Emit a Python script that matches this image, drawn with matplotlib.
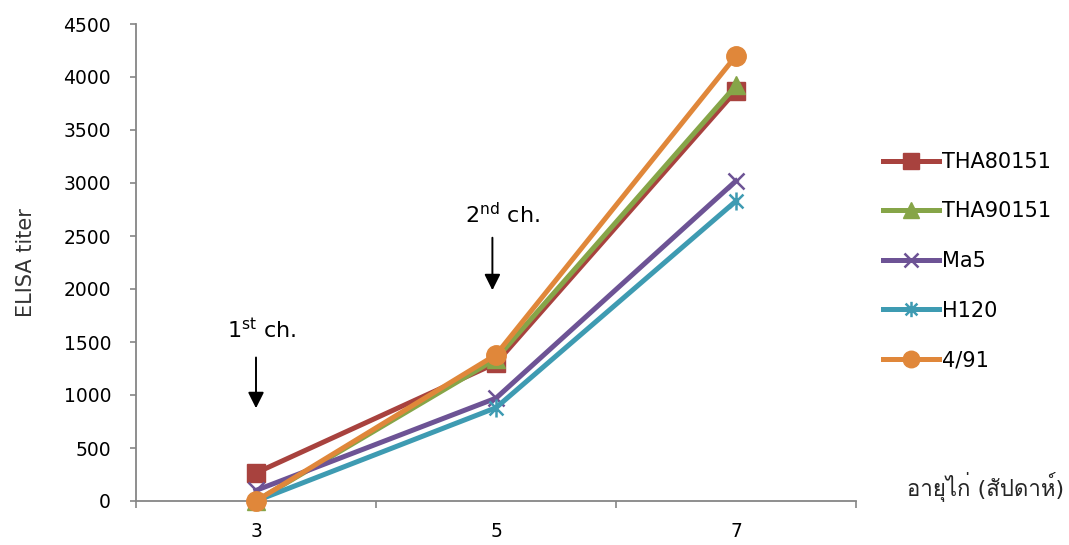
import matplotlib
matplotlib.use("Agg")
import matplotlib.pyplot as plt
from matplotlib import font_manager, ft2font
from matplotlib.path import Path

weeks = [3, 5, 7]
tha80151 = [265, 1300, 3870]
tha90151 = [0, 1340, 3920]
ma5 = [100, 970, 3020]
h120 = [0, 880, 2830]
ib491 = [0, 1380, 4200]

series_names = ["THA80151", "THA90151", "Ma5", "H120", "4/91"]
series_values = [tha80151, tha90151, ma5, h120, ib491]
colors = ["#A8423E", "#86A548", "#6D5395", "#3E9BB2", "#E0873A"]

y_ticks = [0, 500, 1000, 1500, 2000, 2500, 3000, 3500, 4000, 4500]
x_labels = ["3", "5", "7"]

# find installed families that contain Thai glyphs
thai_fams = []
for f in font_manager.fontManager.ttflist:
    try:
        ft = ft2font.FT2Font(f.fname)
        if ft.get_char_index(ord('ก')) and f.name not in thai_fams:
            thai_fams.append(f.name)
    except Exception:
        pass

plt.rcParams['font.family'] = ['DejaVu Sans'] + thai_fams

asterisk = Path([(-1, -1), (1, 1), (-1, 1), (1, -1), (0, -1.3), (0, 1.3)],
                [Path.MOVETO, Path.LINETO, Path.MOVETO, Path.LINETO,
                 Path.MOVETO, Path.LINETO])
markers = ["s", "^", "x", asterisk, "o"]
msizes = [13, 13, 12, 13, 14]

fig = plt.figure(figsize=(10.69, 5.45), dpi=100)
ax = fig.add_axes([136/1069, 44/545, 720/1069, 477/545])

for name, vals, c, m, ms in zip(series_names, series_values, colors, markers, msizes):
    unfilled = (m == "x" or m is asterisk)
    ax.plot(weeks, vals, color=c, lw=3.6, marker=m, markersize=ms,
            markerfacecolor='none' if unfilled else c, markeredgecolor=c,
            markeredgewidth=1.8 if unfilled else 1,
            label=name, clip_on=False, zorder=3)

ax.set_xlim(2, 8)
ax.set_ylim(0, 4500)
ax.set_yticks(y_ticks)
ax.set_yticklabels([str(v) for v in y_ticks], fontsize=13.5)
ax.set_xticks([2, 4, 6, 8])
ax.set_xticklabels([])
ax.set_xticks(weeks, minor=True)
ax.set_xticklabels(x_labels, minor=True, fontsize=13.5)
ax.tick_params(axis='x', which='minor', length=0, pad=15)
ax.tick_params(axis='x', which='major', length=5, color='#868686', direction='out', width=1.2)
ax.tick_params(axis='y', length=4, color='#868686', direction='out', pad=14, width=1.2)
for s in ['top', 'right']:
    ax.spines[s].set_visible(False)
for s in ['left', 'bottom']:
    ax.spines[s].set_color('#868686')
    ax.spines[s].set_linewidth(1.3)

ax.set_ylabel("ELISA titer", fontsize=15, color='#333333', labelpad=20)

fig.text(1064/1069, 1 - 487/545, "อายุไก่ (สัปดาห์)", ha='right', va='center',
         fontsize=16, color='#262626')

# annotations
ax.annotate("", xy=(3, 849), xytext=(3, 1380),
            arrowprops=dict(arrowstyle='-|>', color='black', lw=1.4,
                            mutation_scale=24))
ax.text(3.05, 1613, r"1$^{\mathregular{st}}$ ch.", ha='center', va='center', fontsize=16)
ax.annotate("", xy=(4.97, 1962), xytext=(4.97, 2510),
            arrowprops=dict(arrowstyle='-|>', color='black', lw=1.4,
                            mutation_scale=24))
ax.text(5.05, 2698, r"2$^{\mathregular{nd}}$ ch.", ha='center', va='center', fontsize=16)

leg = fig.legend(loc='center left', bbox_to_anchor=(864/1069, 1 - 261/545),
                 frameon=False, fontsize=15, handlelength=2.7,
                 labelspacing=1.42, handletextpad=0.15, markerscale=0.85)

fig.savefig("out.png", dpi=100)
